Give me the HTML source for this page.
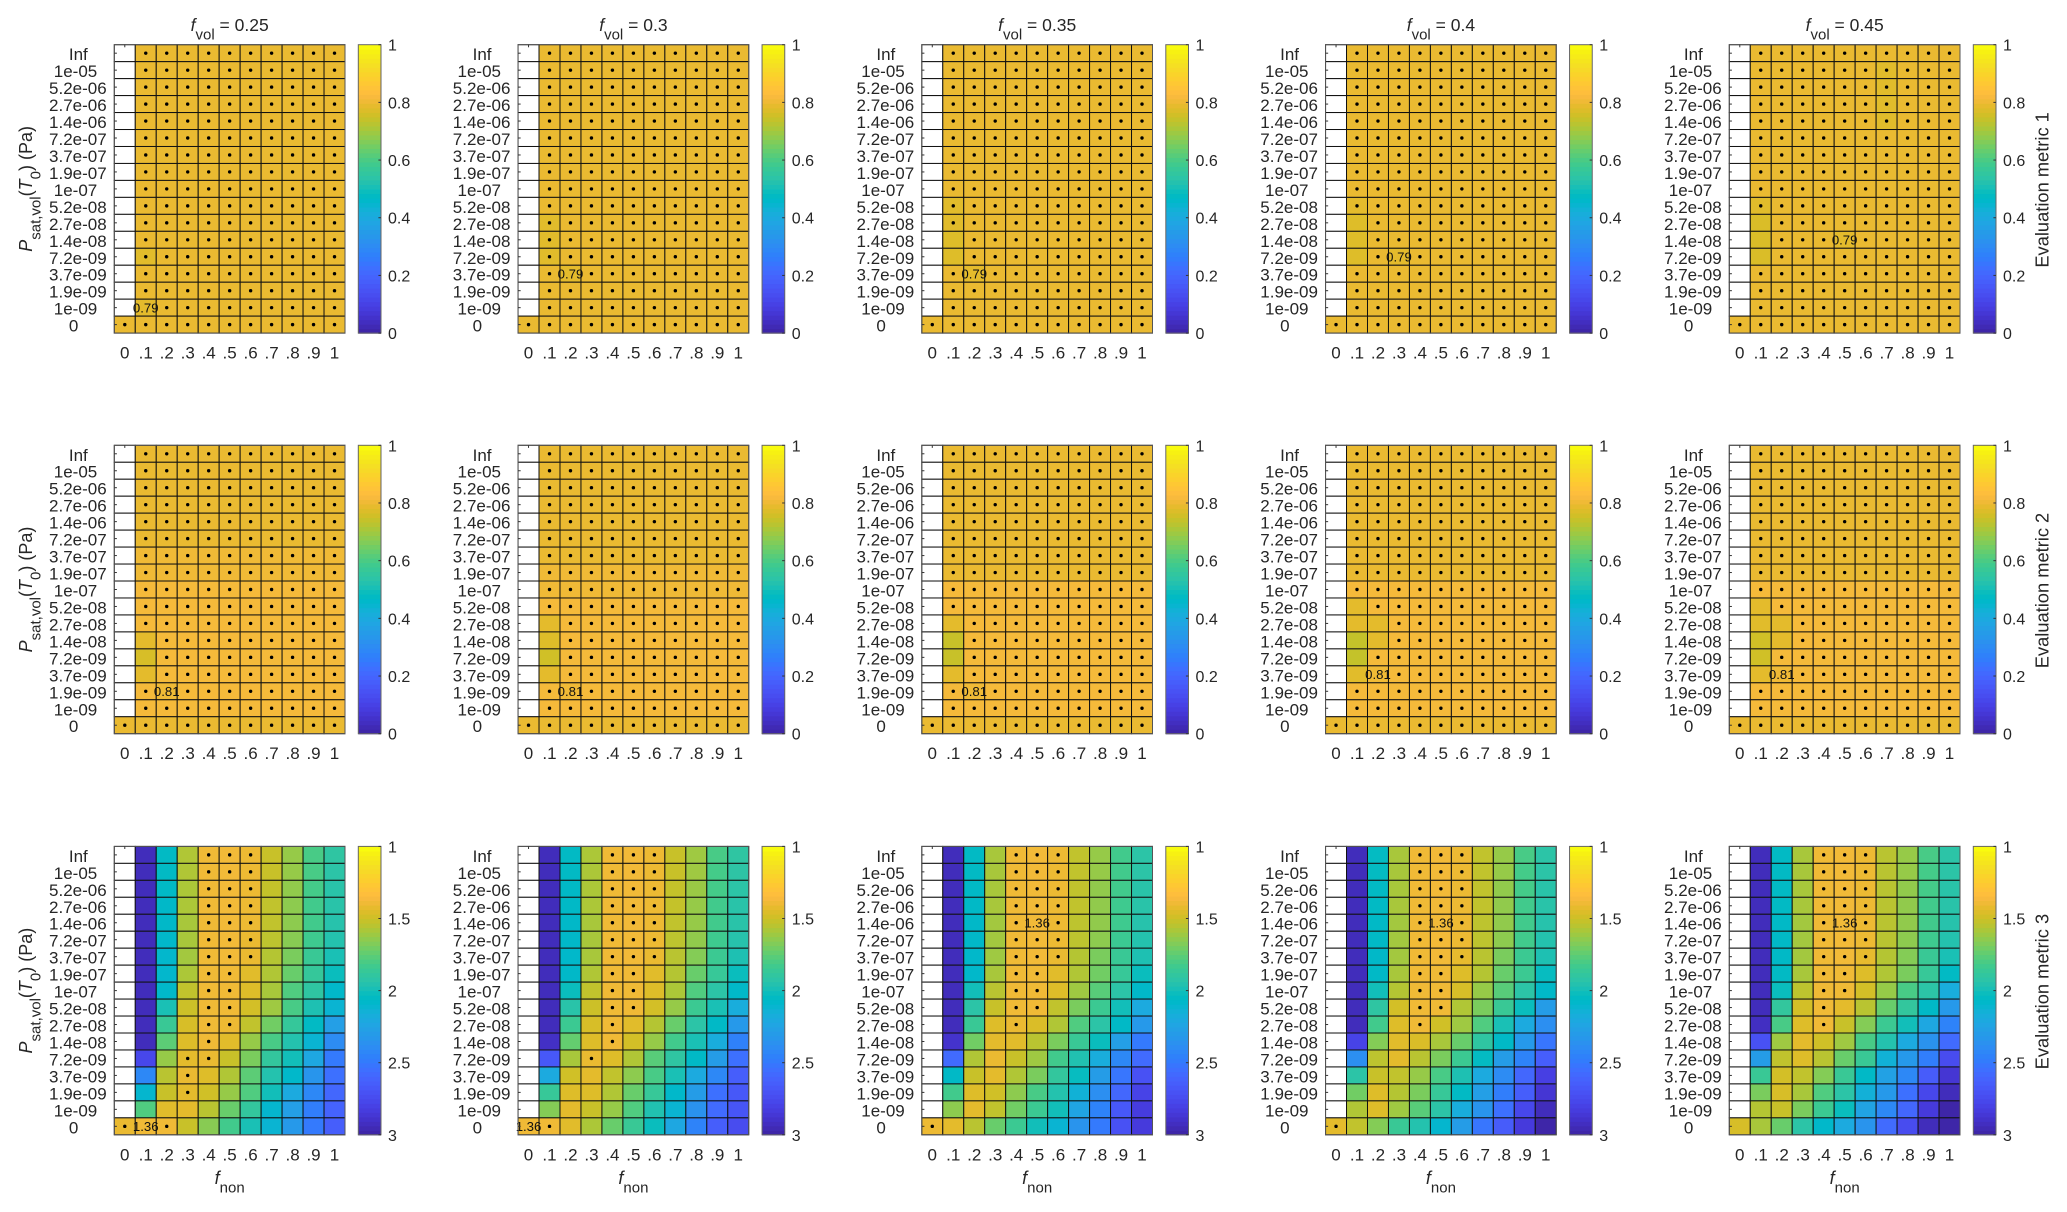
<!DOCTYPE html>
<html lang="en">
<head>
<meta charset="utf-8">
<title>Evaluation metrics heatmap grid</title>
<style>
html,body{margin:0;padding:0;background:#fff;width:2067px;height:1212px;overflow:hidden}
svg{display:block;font-family:"Liberation Sans",Arial,sans-serif;fill:#262626;filter:blur(0.35px)}
</style>
</head>
<body>
<svg id="chart" xmlns="http://www.w3.org/2000/svg" width="2067" height="1212" viewBox="0 0 2067 1212"></svg>
<script>
const _ = null;
const yLabels = ["Inf","1e-05","5.2e-06","2.7e-06","1.4e-06","7.2e-07","3.7e-07","1.9e-07","1e-07","5.2e-08","2.7e-08","1.4e-08","7.2e-09","3.7e-09","1.9e-09","1e-09","0"];
const xLabels = ["0",".1",".2",".3",".4",".5",".6",".7",".8",".9","1"];
const fvolLabels = ["0.25","0.3","0.35","0.4","0.45"];
const metricNames = ["Evaluation metric 1","Evaluation metric 2","Evaluation metric 3"];
const colorbarTicksA = [0,0.2,0.4,0.6,0.8,1];
const colorbarTicksB = [1,1.5,2,2.5,3];

const metric1F25 = [
[_,.8,.8,.8,.8,.8,.8,.8,.8,.8,.8],[_,.8,.8,.8,.8,.8,.8,.8,.8,.8,.8],[_,.8,.8,.8,.8,.8,.8,.8,.8,.8,.8],[_,.8,.8,.8,.8,.8,.8,.8,.8,.8,.8],
[_,.8,.8,.8,.8,.8,.8,.8,.8,.8,.8],[_,.8,.8,.8,.8,.8,.8,.8,.8,.8,.8],[_,.8,.8,.8,.8,.8,.8,.8,.8,.8,.8],[_,.8,.8,.8,.8,.8,.8,.8,.8,.8,.8],
[_,.8,.8,.8,.8,.8,.8,.8,.8,.8,.8],[_,.8,.8,.8,.8,.8,.8,.8,.8,.8,.8],[_,.8,.8,.8,.8,.8,.8,.8,.8,.8,.8],[_,.8,.8,.8,.8,.8,.8,.8,.8,.8,.8],
[_,.785,.8,.8,.8,.8,.8,.8,.8,.8,.8],[_,.8,.8,.8,.8,.8,.8,.8,.8,.8,.8],[_,.8,.8,.8,.8,.8,.8,.8,.8,.8,.8],[_,.79,.8,.8,.8,.8,.8,.8,.8,.8,.8],
[.8,.8,.8,.8,.8,.8,.8,.8,.8,.8,.8]];
const metric1F30 = [
[_,.8,.8,.8,.8,.8,.8,.8,.8,.8,.8],[_,.8,.8,.8,.8,.8,.8,.8,.8,.8,.8],[_,.8,.8,.8,.8,.8,.8,.8,.8,.8,.8],[_,.8,.8,.8,.8,.8,.8,.8,.8,.8,.8],
[_,.8,.8,.8,.8,.8,.8,.8,.8,.8,.8],[_,.8,.8,.8,.8,.8,.8,.8,.8,.8,.8],[_,.8,.8,.8,.8,.8,.8,.8,.8,.8,.8],[_,.8,.8,.8,.8,.8,.8,.8,.8,.8,.8],
[_,.8,.8,.8,.8,.8,.8,.8,.8,.8,.8],[_,.8,.8,.8,.8,.8,.8,.8,.8,.8,.8],[_,.785,.8,.8,.8,.8,.8,.8,.8,.8,.8],[_,.785,.8,.8,.8,.8,.8,.8,.8,.8,.8],
[_,.785,.8,.8,.8,.8,.8,.8,.8,.8,.8],[_,.8,.79,.8,.8,.8,.8,.8,.8,.8,.8],[_,.8,.8,.8,.8,.8,.8,.8,.8,.8,.8],[_,.8,.8,.8,.8,.8,.8,.8,.8,.8,.8],
[.8,.8,.8,.8,.8,.8,.8,.8,.8,.8,.8]];
const metric1F35 = [
[_,.8,.8,.8,.8,.8,.8,.8,.8,.8,.8],[_,.8,.8,.8,.8,.8,.8,.8,.8,.8,.8],[_,.8,.8,.8,.8,.8,.8,.8,.8,.8,.8],[_,.8,.8,.8,.8,.8,.8,.8,.8,.8,.8],
[_,.8,.8,.8,.8,.8,.8,.8,.8,.8,.8],[_,.8,.8,.8,.8,.8,.8,.8,.8,.8,.8],[_,.8,.8,.8,.8,.8,.8,.8,.8,.8,.8],[_,.8,.8,.8,.8,.8,.8,.8,.8,.8,.8],
[_,.8,.8,.8,.8,.8,.8,.8,.8,.8,.8],[_,.785,.8,.8,.8,.8,.8,.8,.8,.8,.8],[_,.785,.8,.8,.8,.8,.8,.8,.8,.8,.8],[_,.78,.8,.8,.8,.8,.8,.8,.8,.8,.8],
[_,.78,.8,.8,.8,.8,.8,.8,.8,.8,.8],[_,.8,.79,.8,.8,.8,.8,.8,.8,.8,.8],[_,.8,.8,.8,.8,.8,.8,.8,.8,.8,.8],[_,.8,.8,.8,.8,.8,.8,.8,.8,.8,.8],
[.8,.8,.8,.8,.8,.8,.8,.8,.8,.8,.8]];
const metric1F40 = [
[_,.8,.8,.8,.8,.8,.8,.8,.8,.8,.8],[_,.8,.8,.8,.8,.8,.8,.8,.8,.8,.8],[_,.8,.8,.8,.8,.8,.8,.8,.8,.8,.8],[_,.8,.8,.8,.8,.8,.8,.8,.8,.8,.8],
[_,.8,.8,.8,.8,.8,.8,.8,.8,.8,.8],[_,.8,.8,.8,.8,.8,.8,.8,.8,.8,.8],[_,.8,.8,.8,.8,.8,.8,.8,.8,.8,.8],[_,.8,.8,.8,.8,.8,.8,.8,.8,.8,.8],
[_,.8,.8,.8,.8,.8,.8,.8,.8,.8,.8],[_,.79,.8,.8,.8,.8,.8,.8,.8,.8,.8],[_,.78,.8,.8,.8,.8,.8,.8,.8,.8,.8],[_,.78,.8,.8,.8,.8,.8,.8,.8,.8,.8],
[_,.78,.8,.79,.8,.8,.8,.8,.8,.8,.8],[_,.8,.8,.8,.8,.8,.8,.8,.8,.8,.8],[_,.8,.8,.8,.8,.8,.8,.8,.8,.8,.8],[_,.8,.8,.8,.8,.8,.8,.8,.8,.8,.8],
[.8,.8,.8,.8,.8,.8,.8,.8,.8,.8,.8]];
const metric1F45 = [
[_,.8,.8,.8,.8,.8,.8,.8,.8,.8,.8],[_,.8,.8,.8,.8,.8,.8,.785,.8,.8,.8],[_,.8,.8,.8,.8,.8,.8,.785,.8,.8,.8],[_,.8,.8,.8,.8,.8,.8,.785,.8,.8,.8],
[_,.8,.8,.8,.8,.8,.8,.785,.8,.8,.8],[_,.8,.8,.8,.8,.8,.8,.8,.8,.8,.8],[_,.8,.8,.8,.8,.8,.8,.8,.8,.8,.8],[_,.8,.8,.8,.8,.8,.8,.8,.8,.8,.8],
[_,.8,.8,.8,.8,.8,.8,.8,.8,.8,.8],[_,.785,.8,.8,.8,.8,.8,.8,.8,.8,.8],[_,.775,.8,.8,.8,.8,.8,.8,.8,.8,.8],[_,.775,.8,.8,.8,.79,.8,.8,.8,.8,.8],
[_,.775,.8,.8,.8,.8,.8,.8,.8,.8,.8],[_,.8,.8,.8,.8,.8,.8,.8,.8,.8,.8],[_,.8,.8,.8,.8,.8,.8,.8,.8,.8,.8],[_,.8,.8,.8,.8,.8,.8,.8,.8,.8,.8],
[.8,.8,.8,.8,.8,.8,.8,.8,.8,.8,.8]];

const metric2F25 = [
[_,.8,.8,.8,.8,.8,.8,.8,.8,.8,.8],[_,.8,.8,.8,.8,.8,.8,.8,.8,.8,.8],[_,.8,.8,.8,.8,.8,.8,.8,.8,.8,.8],[_,.8,.8,.8,.8,.8,.8,.8,.8,.8,.8],
[_,.8,.8,.8,.8,.8,.8,.8,.8,.8,.8],[_,.8,.8,.8,.8,.8,.8,.8,.8,.8,.8],[_,.81,.81,.81,.81,.81,.81,.81,.81,.81,.81],[_,.81,.81,.81,.81,.81,.81,.81,.81,.81,.81],
[_,.82,.82,.82,.82,.82,.82,.82,.82,.82,.82],[_,.82,.82,.82,.82,.82,.82,.82,.82,.82,.82],[_,.82,.82,.82,.82,.82,.82,.82,.82,.82,.82],[_,.79,.82,.82,.82,.82,.82,.82,.82,.82,.82],
[_,.77,.82,.82,.82,.82,.82,.82,.82,.82,.82],[_,.79,.82,.82,.82,.82,.82,.82,.82,.82,.82],[_,.82,.81,.82,.82,.82,.82,.82,.82,.82,.82],[_,.82,.82,.82,.82,.82,.82,.82,.82,.82,.82],
[.8,.8,.8,.8,.8,.8,.8,.8,.8,.8,.8]];
const metric2F30 = [
[_,.8,.8,.8,.8,.8,.8,.8,.8,.8,.8],[_,.8,.8,.8,.8,.8,.8,.8,.8,.8,.8],[_,.8,.8,.8,.8,.8,.8,.8,.8,.8,.8],[_,.8,.8,.8,.8,.8,.8,.8,.8,.8,.8],
[_,.8,.8,.8,.8,.8,.8,.8,.8,.8,.8],[_,.8,.8,.8,.8,.8,.8,.8,.8,.8,.8],[_,.8,.8,.8,.8,.8,.8,.8,.8,.8,.8],[_,.81,.81,.81,.81,.81,.81,.81,.81,.81,.81],
[_,.81,.81,.81,.81,.81,.81,.81,.81,.81,.81],[_,.82,.82,.82,.82,.82,.82,.82,.82,.82,.82],[_,.79,.82,.82,.82,.82,.82,.82,.82,.82,.82],[_,.78,.82,.82,.82,.82,.82,.82,.82,.82,.82],
[_,.76,.82,.82,.82,.82,.82,.82,.82,.82,.82],[_,.79,.82,.82,.82,.82,.82,.82,.82,.82,.82],[_,.82,.81,.82,.82,.82,.82,.82,.82,.82,.82],[_,.82,.82,.82,.82,.82,.82,.82,.82,.82,.82],
[.8,.8,.8,.8,.8,.8,.8,.8,.8,.8,.8]];
const metric2F35 = [
[_,.8,.8,.8,.8,.8,.8,.8,.8,.8,.8],[_,.8,.8,.8,.8,.8,.8,.8,.8,.8,.8],[_,.8,.8,.8,.8,.8,.8,.8,.8,.8,.8],[_,.8,.8,.8,.8,.8,.8,.8,.8,.8,.8],
[_,.8,.8,.8,.8,.8,.8,.8,.8,.8,.8],[_,.8,.8,.8,.8,.8,.8,.8,.8,.8,.8],[_,.8,.8,.8,.8,.8,.8,.8,.8,.8,.8],[_,.8,.8,.8,.8,.8,.8,.8,.8,.8,.8],
[_,.82,.82,.82,.82,.82,.82,.82,.82,.82,.82],[_,.82,.82,.82,.82,.82,.82,.82,.82,.82,.82],[_,.79,.82,.82,.82,.82,.82,.82,.82,.82,.82],[_,.75,.82,.82,.82,.82,.82,.82,.82,.82,.82],
[_,.75,.82,.82,.82,.82,.82,.82,.82,.82,.82],[_,.79,.82,.82,.82,.82,.82,.82,.82,.82,.82],[_,.82,.81,.82,.82,.82,.82,.82,.82,.82,.82],[_,.82,.82,.82,.82,.82,.82,.82,.82,.82,.82],
[.8,.8,.8,.8,.8,.8,.8,.8,.8,.8,.8]];
const metric2F40 = [
[_,.8,.8,.8,.8,.8,.8,.8,.8,.8,.8],[_,.8,.8,.8,.8,.8,.8,.8,.8,.8,.8],[_,.8,.8,.8,.8,.8,.8,.8,.8,.8,.8],[_,.8,.8,.8,.8,.8,.8,.8,.8,.8,.8],
[_,.8,.8,.8,.8,.8,.8,.8,.8,.8,.8],[_,.8,.8,.8,.8,.8,.8,.8,.8,.8,.8],[_,.8,.8,.8,.8,.8,.8,.8,.8,.8,.8],[_,.8,.8,.8,.8,.8,.8,.8,.8,.8,.8],
[_,.82,.82,.82,.82,.82,.82,.82,.82,.82,.82],[_,.79,.82,.82,.82,.82,.82,.82,.82,.82,.82],[_,.79,.79,.82,.82,.82,.82,.82,.82,.82,.82],[_,.745,.79,.82,.82,.82,.82,.82,.82,.82,.82],
[_,.745,.82,.82,.82,.82,.82,.82,.82,.82,.82],[_,.785,.81,.82,.82,.82,.82,.82,.82,.82,.82],[_,.82,.82,.82,.82,.82,.82,.82,.82,.82,.82],[_,.82,.82,.82,.82,.82,.82,.82,.82,.82,.82],
[.8,.8,.8,.8,.8,.8,.8,.8,.8,.8,.8]];
const metric2F45 = [
[_,.8,.8,.8,.8,.8,.8,.8,.8,.8,.8],[_,.8,.8,.8,.8,.8,.8,.8,.8,.8,.8],[_,.8,.8,.8,.8,.8,.8,.8,.8,.8,.8],[_,.8,.8,.8,.8,.8,.8,.8,.8,.8,.8],
[_,.8,.8,.8,.8,.8,.8,.8,.8,.8,.8],[_,.8,.8,.8,.8,.8,.8,.8,.8,.8,.8],[_,.8,.8,.8,.8,.8,.8,.8,.8,.8,.8],[_,.8,.8,.8,.8,.8,.8,.8,.8,.8,.8],
[_,.82,.82,.82,.82,.82,.82,.82,.82,.82,.82],[_,.79,.82,.82,.82,.82,.82,.82,.82,.82,.82],[_,.785,.79,.82,.82,.82,.82,.82,.82,.82,.82],[_,.76,.79,.82,.82,.82,.82,.82,.82,.82,.82],
[_,.76,.82,.82,.82,.82,.82,.82,.82,.82,.82],[_,.79,.81,.82,.82,.82,.82,.82,.82,.82,.82],[_,.82,.82,.82,.82,.82,.82,.82,.82,.82,.82],[_,.82,.82,.82,.82,.82,.82,.82,.82,.82,.82],
[.8,.8,.8,.8,.8,.8,.8,.8,.8,.8,.8]];

const metric3F25 = [
[_,2.95,2.05,1.56,1.38,1.37,1.39,1.5,1.62,1.8,1.9],
[_,2.95,2.05,1.56,1.38,1.37,1.39,1.5,1.62,1.8,1.92],
[_,2.95,2.06,1.57,1.38,1.37,1.39,1.51,1.63,1.81,1.93],
[_,2.95,2.07,1.57,1.38,1.37,1.39,1.52,1.64,1.82,1.93],
[_,2.95,2.07,1.58,1.38,1.37,1.39,1.52,1.64,1.82,1.94],
[_,2.95,2.08,1.58,1.38,1.37,1.4,1.53,1.65,1.83,1.95],
[_,2.95,2.09,1.59,1.38,1.37,1.4,1.55,1.68,1.85,1.98],
[_,2.95,2.09,1.57,1.38,1.38,1.43,1.56,1.72,1.87,2.02],
[_,2.95,2.08,1.52,1.38,1.38,1.44,1.58,1.78,1.9,2.08],
[_,2.95,1.98,1.49,1.38,1.38,1.47,1.6,1.8,1.97,2.12],
[_,2.95,1.85,1.46,1.38,1.39,1.52,1.7,1.87,2.05,2.28],
[_,2.95,1.75,1.44,1.38,1.43,1.62,1.8,1.95,2.12,2.4],
[_,2.78,1.62,1.42,1.4,1.5,1.68,1.88,2,2.22,2.5],
[_,2.42,1.54,1.4,1.44,1.56,1.75,1.95,2.08,2.34,2.55],
[_,2.1,1.5,1.42,1.48,1.62,1.78,2,2.2,2.42,2.6],
[_,1.78,1.43,1.42,1.54,1.72,1.88,2.1,2.28,2.48,2.62],
[1.4,1.38,1.38,1.5,1.65,1.82,1.98,2.12,2.32,2.5,2.65]];
const metric3F30 = [
[_,2.95,2.05,1.57,1.38,1.37,1.39,1.5,1.6,1.8,1.9],
[_,2.95,2.05,1.57,1.38,1.37,1.39,1.5,1.6,1.81,1.91],
[_,2.95,2.06,1.57,1.38,1.37,1.39,1.51,1.61,1.81,1.92],
[_,2.95,2.06,1.57,1.38,1.37,1.39,1.51,1.62,1.82,1.93],
[_,2.95,2.07,1.58,1.38,1.37,1.39,1.52,1.62,1.82,1.93],
[_,2.95,2.07,1.58,1.38,1.37,1.39,1.53,1.63,1.83,1.94],
[_,2.95,2.08,1.58,1.38,1.37,1.4,1.54,1.66,1.84,1.97],
[_,2.95,2.07,1.56,1.38,1.38,1.43,1.55,1.72,1.86,2.02],
[_,2.95,2.02,1.52,1.38,1.38,1.44,1.57,1.78,1.92,2.07],
[_,2.95,1.93,1.49,1.38,1.38,1.47,1.62,1.84,1.98,2.18],
[_,2.95,1.84,1.46,1.38,1.43,1.55,1.72,1.92,2.06,2.32],
[_,2.92,1.73,1.44,1.38,1.47,1.62,1.82,1.98,2.18,2.46],
[_,2.68,1.58,1.4,1.44,1.56,1.76,1.9,2.06,2.3,2.55],
[_,2.2,1.48,1.42,1.52,1.64,1.8,1.98,2.2,2.42,2.65],
[_,1.86,1.44,1.44,1.56,1.72,1.86,2.08,2.3,2.55,2.68],
[_,1.66,1.42,1.5,1.62,1.78,1.96,2.12,2.36,2.58,2.7],
[1.38,1.38,1.43,1.57,1.72,1.85,2.02,2.22,2.45,2.65,2.75]];
const metric3F35 = [
[_,2.95,2.05,1.58,1.38,1.37,1.39,1.52,1.62,1.82,1.92],
[_,2.95,2.05,1.58,1.38,1.37,1.39,1.52,1.62,1.82,1.92],
[_,2.95,2.06,1.58,1.38,1.37,1.39,1.52,1.63,1.82,1.93],
[_,2.95,2.06,1.58,1.38,1.37,1.39,1.52,1.63,1.83,1.93],
[_,2.95,2.07,1.59,1.38,1.37,1.39,1.53,1.63,1.83,1.94],
[_,2.95,2.07,1.59,1.38,1.37,1.39,1.53,1.64,1.84,1.95],
[_,2.95,2.08,1.6,1.38,1.37,1.4,1.55,1.68,1.85,1.97],
[_,2.95,2.08,1.58,1.38,1.38,1.43,1.56,1.7,1.86,2.02],
[_,2.95,2,1.54,1.38,1.38,1.44,1.6,1.76,1.92,2.07],
[_,2.95,1.92,1.5,1.38,1.38,1.52,1.68,1.84,2,2.2],
[_,2.95,1.85,1.44,1.4,1.45,1.56,1.78,1.92,2.06,2.32],
[_,2.9,1.7,1.42,1.43,1.54,1.68,1.85,2.02,2.28,2.5],
[_,2.58,1.56,1.4,1.5,1.6,1.82,1.96,2.18,2.42,2.58],
[_,2.06,1.5,1.42,1.56,1.68,1.88,2.03,2.3,2.52,2.72],
[_,1.82,1.44,1.48,1.64,1.8,1.95,2.14,2.38,2.6,2.8],
[_,1.64,1.42,1.52,1.7,1.84,2,2.24,2.45,2.68,2.84],
[1.39,1.42,1.54,1.72,1.84,2,2.12,2.35,2.5,2.72,2.85]];
const metric3F40 = [
[_,2.95,2.04,1.58,1.38,1.37,1.39,1.52,1.62,1.8,1.92],
[_,2.95,2.04,1.58,1.38,1.37,1.39,1.52,1.62,1.81,1.92],
[_,2.95,2.05,1.58,1.38,1.37,1.39,1.52,1.63,1.81,1.93],
[_,2.95,2.05,1.58,1.38,1.37,1.39,1.52,1.63,1.82,1.93],
[_,2.95,2.06,1.59,1.38,1.37,1.39,1.53,1.63,1.82,1.94],
[_,2.95,2.06,1.59,1.38,1.37,1.39,1.53,1.64,1.82,1.95],
[_,2.95,2.07,1.59,1.38,1.37,1.41,1.54,1.68,1.84,1.97],
[_,2.95,2.06,1.58,1.38,1.38,1.44,1.55,1.72,1.84,2.03],
[_,2.95,2,1.55,1.38,1.38,1.46,1.62,1.76,1.92,2.07],
[_,2.95,1.9,1.47,1.38,1.38,1.56,1.68,1.85,2.02,2.3],
[_,2.95,1.82,1.44,1.38,1.48,1.6,1.78,1.98,2.2,2.38],
[_,2.8,1.66,1.43,1.45,1.58,1.72,1.9,2.06,2.32,2.52],
[_,2.38,1.53,1.42,1.54,1.68,1.84,2.04,2.3,2.45,2.65],
[_,1.92,1.5,1.52,1.62,1.8,1.97,2.2,2.4,2.6,2.82],
[_,1.7,1.44,1.55,1.68,1.86,2.05,2.28,2.48,2.65,2.88],
[_,1.56,1.44,1.6,1.76,1.92,2.18,2.35,2.55,2.78,2.95],
[1.42,1.52,1.66,1.85,1.95,2.1,2.3,2.52,2.66,2.85,3]];
const metric3F45 = [
[_,2.95,2.05,1.58,1.38,1.37,1.39,1.54,1.62,1.8,1.92],
[_,2.95,2.05,1.58,1.38,1.37,1.39,1.54,1.62,1.81,1.92],
[_,2.95,2.05,1.58,1.38,1.37,1.39,1.54,1.63,1.81,1.93],
[_,2.95,2.05,1.58,1.38,1.37,1.39,1.54,1.63,1.82,1.93],
[_,2.95,2.06,1.59,1.38,1.37,1.39,1.54,1.63,1.82,1.94],
[_,2.95,2.06,1.59,1.38,1.37,1.39,1.54,1.64,1.83,1.95],
[_,2.95,2.06,1.59,1.38,1.37,1.41,1.55,1.66,1.85,1.98],
[_,2.95,2.05,1.58,1.38,1.38,1.44,1.56,1.68,1.86,2.05],
[_,2.95,2.02,1.53,1.38,1.38,1.47,1.62,1.8,1.92,2.18],
[_,2.95,1.88,1.47,1.38,1.42,1.54,1.72,1.88,2.06,2.32],
[_,2.93,1.8,1.44,1.38,1.5,1.66,1.84,2,2.22,2.45],
[_,2.72,1.6,1.42,1.48,1.6,1.8,1.95,2.2,2.36,2.58],
[_,2.3,1.52,1.44,1.54,1.72,1.85,2.14,2.32,2.48,2.75],
[_,1.85,1.47,1.52,1.66,1.85,2.06,2.26,2.42,2.66,2.88],
[_,1.68,1.46,1.58,1.78,1.92,2.15,2.32,2.55,2.78,2.95],
[_,1.55,1.5,1.68,1.84,2.02,2.25,2.42,2.6,2.85,3],
[1.46,1.58,1.72,1.92,2.08,2.2,2.35,2.58,2.75,2.95,3]];

const metricPanels = [
  [metric1F25,metric1F30,metric1F35,metric1F40,metric1F45],
  [metric2F25,metric2F30,metric2F35,metric2F40,metric2F45],
  [metric3F25,metric3F30,metric3F35,metric3F40,metric3F45]
];
/* best-value annotation per panel: [row, col, text] */
const bestMetric1 = [[15,1,"0.79"],[13,2,"0.79"],[13,2,"0.79"],[12,3,"0.79"],[11,5,"0.79"]];
const bestMetric2 = [[14,2,"0.81"],[14,2,"0.81"],[14,2,"0.81"],[13,2,"0.81"],[13,2,"0.81"]];
const bestMetric3 = [[16,1,"1.36"],[16,0,"1.36"],[4,5,"1.36"],[4,5,"1.36"],[4,5,"1.36"]];
/* metric 1 and 2: every cell is marked except these [row, col] */
const undottedMetric1 = [[],[],[[11,1],[12,1]],[[10,1],[11,1],[12,1]],[[10,1],[11,1],[12,1]]];
const undottedMetric2 = [
  [[11,1],[12,1],[13,1]],
  [[10,1],[11,1],[12,1],[13,1]],
  [[10,1],[11,1],[12,1],[13,1]],
  [[9,1],[10,1],[10,2],[11,1],[11,2],[12,1],[13,1]],
  [[9,1],[10,1],[10,2],[11,1],[11,2],[12,1],[13,1]]
];
/* metric 3: marked cells as [col, firstRow, lastRow] */
const dottedMetric3 = [
  [[4,0,12],[5,0,10],[6,0,6],[3,12,14],[0,16,16],[2,16,16]],
  [[4,0,11],[5,0,9],[6,0,6],[3,12,12],[1,16,16]],
  [[4,0,10],[5,0,9],[6,0,6],[0,16,16]],
  [[4,0,10],[5,0,9],[6,0,6],[0,16,16]],
  [[4,0,10],[5,0,8],[6,0,6]]
];
const parula = [[.2422,.1504,.6603],[.2504,.165,.7076],[.2578,.1818,.7511],[.2647,.1978,.7952],[.2706,.2147,.8364],[.2751,.2342,.871],[.2783,.2559,.8991],[.2803,.2782,.9221],[.2813,.3006,.9414],[.281,.3228,.9579],[.2795,.3447,.9717],[.276,.3667,.9829],[.2699,.3892,.9906],[.2602,.4123,.9952],[.244,.4358,.9988],[.2206,.4603,.9973],[.1963,.4847,.9892],[.1834,.5074,.9798],[.1786,.5289,.9682],[.1764,.5499,.952],[.1687,.5703,.9359],[.154,.5902,.9218],[.146,.6091,.9079],[.138,.6276,.8973],[.1248,.6459,.8883],[.1113,.6635,.8763],[.0952,.6798,.8598],[.0689,.6948,.8394],[.0297,.7082,.8163],[.0036,.7203,.7917],[.0067,.7312,.766],[.0433,.7411,.7394],[.0964,.75,.712],[.1408,.7584,.6842],[.1717,.767,.6554],[.1938,.7758,.6251],[.2161,.7843,.5923],[.247,.7918,.5567],[.2906,.7973,.5188],[.3406,.8008,.4789],[.3909,.8029,.4354],[.4456,.8024,.3909],[.5044,.7993,.348],[.5616,.7942,.3045],[.6174,.7876,.2612],[.672,.7793,.2227],[.7242,.7698,.191],[.7738,.7598,.1646],[.8203,.7498,.1535],[.8634,.7406,.1596],[.9035,.733,.1774],[.9393,.7288,.21],[.9728,.7298,.2394],[.9956,.7434,.2371],[.997,.7659,.2199],[.9952,.7861,.199],[.9892,.8073,.1802],[.9786,.8292,.1652],[.9676,.8513,.151],[.961,.8744,.1356],[.9597,.8977,.1151],[.9628,.9204,.0929],[.9691,.9444,.0689],[.9763,.9831,.0538]];

const SVGNS = "http://www.w3.org/2000/svg";
const svg = document.getElementById("chart");
const LEFT0 = 114.3, COL_STEP = 403.75, AX_W = 230.7;
const TOPS = [44.7, 445.3, 846.4], AX_H = 288.4;
const CB_X = 244, CB_W = 22.7;

function make(tag, attrs, parent, text) {
  const el = document.createElementNS(SVGNS, tag);
  for (const k in attrs) el.setAttribute(k, attrs[k]);
  if (text !== undefined) el.textContent = text;
  parent.appendChild(el);
  return el;
}
function colorAt(t) {
  const p = Math.max(0, Math.min(1, t)) * 63;
  const i = Math.min(62, Math.floor(p)), f = p - i;
  const c = parula[i].map((v, k) => Math.round(255 * (v + (parula[i + 1][k] - v) * f)));
  return "rgb(" + c.join(",") + ")";
}
function spans(textEl, parts) {
  parts.forEach(function (p) {
    const s = make("tspan", {}, textEl, p.t);
    if (p.i) s.setAttribute("font-style", "italic");
    if (p.fs) s.setAttribute("font-size", p.fs);
    if (p.dy) s.setAttribute("dy", p.dy);
  });
}

metricPanels.forEach(function (panels, m) {
  const inverted = m === 2;
  const toT = inverted ? function (v) { return (3 - v) / 2; } : function (v) { return v; };
  const best = [bestMetric1, bestMetric2, bestMetric3][m];
  panels.forEach(function (values, p) {
    const left = LEFT0 + COL_STEP * p, top = TOPS[m];
    const xScale = function (c) { return left + AX_W * c / xLabels.length; };
    const yScale = function (r) { return top + AX_H * r / yLabels.length; };
    const cw = AX_W / xLabels.length, ch = AX_H / yLabels.length;

    const g = make("g", {}, svg);
    
    

    values.forEach(function (row, r) {
      row.forEach(function (v, c) {
        const cell = make("rect", {
          x: xScale(c), y: yScale(r), width: cw, height: ch,
          fill: v === null ? "#fff" : colorAt(toT(v)),
          stroke: "#111", "stroke-width": 1
        }, g);
        
        
      });
    });

    const hasDot = {};
    if (inverted) {
      dottedMetric3[p].forEach(function (d) {
        for (let r = d[1]; r <= d[2]; r++) hasDot[r + "," + d[0]] = true;
      });
    } else {
      values.forEach(function (row, r) {
        row.forEach(function (v, c) { if (v !== null) hasDot[r + "," + c] = true; });
      });
      (m === 0 ? undottedMetric1 : undottedMetric2)[p].forEach(function (d) {
        delete hasDot[d[0] + "," + d[1]];
      });
    }
    delete hasDot[best[p][0] + "," + best[p][1]];
    Object.keys(hasDot).forEach(function (key) {
      const rc = key.split(",").map(Number);
      const dot = make("circle", { cx: xScale(rc[1]) + cw / 2, cy: yScale(rc[0]) + ch / 2, r: 1.7, fill: "#000" }, g);
      
      
    });

    const bestLabel = make("text", {
      x: xScale(best[p][1]) + cw / 2, y: yScale(best[p][0]) + ch / 2 + 4.6,
      "text-anchor": "middle", "font-size": 13.2, fill: "#111"
    }, g, best[p][2]);
    
    

    const frame = make("rect", { x: left, y: top, width: AX_W, height: AX_H, fill: "none", stroke: "#555", "stroke-width": 1 }, g);
    
    

    yLabels.forEach(function (lab, r) {
      const cy = yScale(r) + ch / 2;
      const tick = make("line", { x1: left, x2: left + 2.6, y1: cy, y2: cy, stroke: "#333", "stroke-width": 1 }, g);
      
      
      const t = make("text", {
        x: left - 7.6 - (7 - lab.length) * 4.73, y: cy + 7,
        "text-anchor": "end", "font-size": 17
      }, g, lab);
      
      
    });
    const topTick = make("line", { x1: xScale(0) + cw / 2, x2: xScale(0) + cw / 2, y1: top, y2: top + 2.6, stroke: "#333", "stroke-width": 1 }, g);
    
    
    xLabels.forEach(function (lab, c) {
      const t = make("text", {
        x: xScale(c) + cw / 2, y: top + AX_H + 25.5,
        "text-anchor": "middle", "font-size": 17
      }, g, lab);
      
      
    });

    /* colorbar */
    const cbx = left + CB_X;
    const cb = make("g", {}, svg);
    
    
    for (let i = 0; i < 64; i++) {
      const band = make("rect", {
        x: cbx, y: top + AX_H * (63 - i) / 64, width: CB_W, height: AX_H / 64 + 0.6,
        fill: colorAt(i / 63)
      }, cb);
      
      
    }
    const cbf = make("rect", { x: cbx, y: top, width: CB_W, height: AX_H, fill: "none", stroke: "#666", "stroke-width": 1 }, cb);
    
    
    (inverted ? colorbarTicksB : colorbarTicksA).forEach(function (v) {
      const y = top + AX_H * (1 - toT(v));
      const tk = make("line", { x1: cbx + CB_W - 2.6, x2: cbx + CB_W, y1: y, y2: y, stroke: "#333", "stroke-width": 1 }, cb);
      
      
      const lb = make("text", { x: cbx + CB_W + 7, y: y + 6, "font-size": 16 }, cb, String(v));
      
      
    });

    const cx = left + AX_W / 2, cy = top + AX_H / 2;
    if (m === 0) {
      const title = make("text", { x: cx, y: 31, "text-anchor": "middle", "font-size": 17.5 }, svg);
      
      
      spans(title, [{ t: "f", i: 1 }, { t: "vol", fs: 15, dy: 8.6 }, { t: " = " + fvolLabels[p], dy: -8.6 }]);
    }
    if (m === 2) {
      const xt = make("text", { x: cx, y: top + AX_H + 49, "text-anchor": "middle", "font-size": 18 }, svg);
      
      
      spans(xt, [{ t: "f", i: 1 }, { t: "non", fs: 15, dy: 8.6 }]);
    }
    if (p === 0) {
      const yt = make("text", { transform: "translate(32," + cy + ") rotate(-90)", "text-anchor": "middle", "font-size": 18 }, svg);
      
      
      spans(yt, [{ t: "P", i: 1 }, { t: "sat,vol", fs: 15, dy: 8.6 }, { t: "(", dy: -8.6 }, { t: "T", i: 1 }, { t: "0", fs: 15, dy: 8.6 }, { t: ") (Pa)", dy: -8.6 }]);
    }
    if (p === panels.length - 1) {
      const rt = make("text", { transform: "translate(2048.5," + (cy + 1) + ") rotate(-90)", "text-anchor": "middle", "font-size": 18.3 }, svg, metricNames[m]);
      
      
    }
  });
});
</script>
</body>
</html>
